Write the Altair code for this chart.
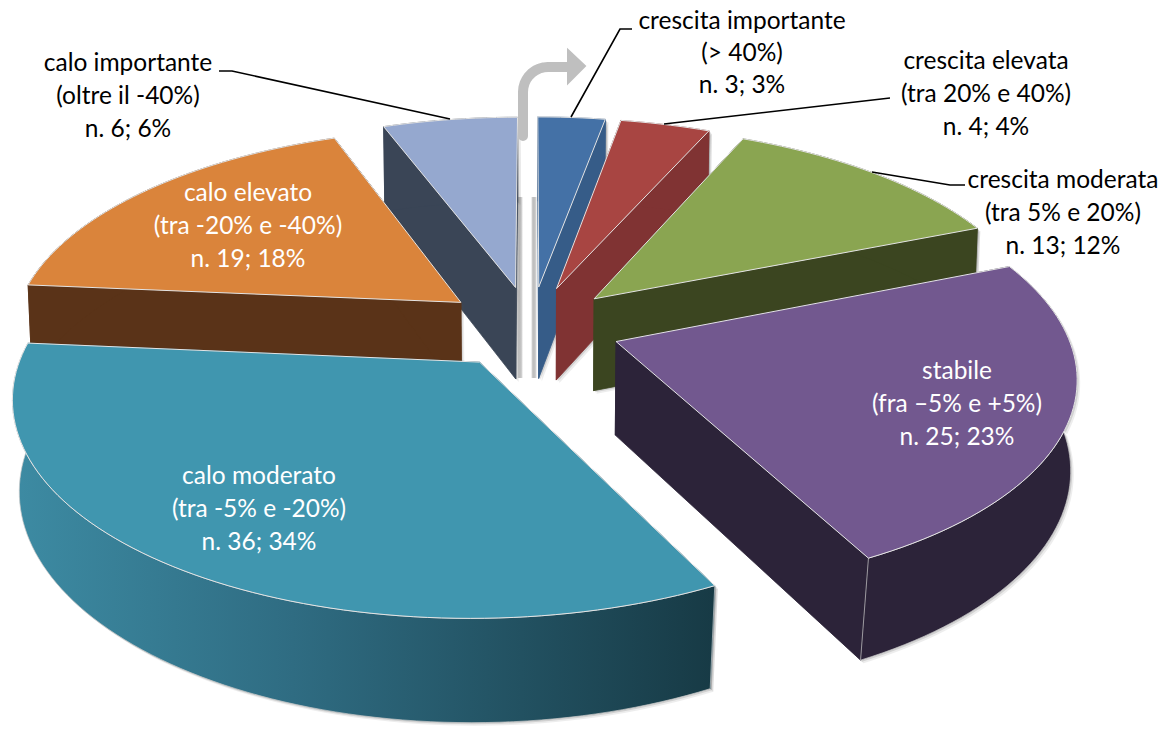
import math
import altair as alt
import pandas as pd

# ---- data
names = ["crescita importante", "crescita elevata", "crescita moderata", "stabile",
         "calo moderato", "calo elevato", "calo importante"]
counts = [3, 4, 13, 25, 36, 19, 6]
top_colors = ["#4471A6", "#A84542", "#8AA551", "#72588F", "#4096AF", "#DA843B", "#95A8CF"]
side_colors = ["#365C88", "#803333", "#3B4520", "#2C2339", "#2A6275", "#5A3318", "#3A4556"]
draw_order = [6, 0, 1, 2, 5, 3, 4]

label_lines = [
    ["crescita importante", "(> 40%)", "n. 3; 3%"],
    ["crescita elevata", "(tra 20% e 40%)", "n. 4; 4%"],
    ["crescita moderata", "(tra 5% e 20%)", "n. 13; 12%"],
    ["stabile", "(fra –5% e +5%)", "n. 25; 23%"],
    ["calo moderato", "(tra -5% e -20%)", "n. 36; 34%"],
    ["calo elevato", "(tra -20% e -40%)", "n. 19; 18%"],
    ["calo importante", "(oltre il -40%)", "n. 6; 6%"],
]
label_x = [742, 986, 1063, 957, 259, 248, 128]
label_y = [22, 61.5, 180.5, 371.5, 476.5, 193.5, 63.5]
line_steps = [32, 33, 33, 33, 33, 33, 33]
label_color = ["black", "black", "black", "white", "white", "white", "black"]

leaders = [
    [(571, 117), (620, 29), (632, 29)],
    [(664, 124), (890, 98)],
    [(872, 172), (950, 185), (965, 185)],
    [(450, 119), (232, 71), (219, 71)],
]
slit_x = [(517, 523), (531, 537)]
slit_y = (197, 378)

# ---- view of the tilted, exploded pie
cx, cy, S, T, k, H, e = 531, 327, 449, 206.5, 0.149, 93, 0.2


def project(x, y, z=0.0):
    w = 1 + k * y
    shrink = 0.008 + 0.016 * max(0.0, -y)
    return (cx + S * x / w * (1 - shrink * z), cy - T * y / w + H * z / w ** 0.6)


X = alt.X("x:Q", scale=alt.Scale(domain=[8, 1166]), axis=None)
Y = alt.Y("y:Q", scale=alt.Scale(domain=[729, 8]), axis=None)


def poly(points, fill, stroke=None, sw=0.8, opacity=1.0):
    df = pd.DataFrame({"x": [p[0] for p in points], "y": [p[1] for p in points],
                       "i": list(range(len(points)))})
    kw = dict(fill=fill, interpolate="linear-closed", strokeWidth=sw, opacity=opacity,
              stroke=stroke if stroke else "transparent")
    return alt.Chart(df).mark_line(**kw).encode(x=X, y=Y, order=alt.Order("i:Q"))


def path(points, color, sw, **kw):
    df = pd.DataFrame({"x": [p[0] for p in points], "y": [p[1] for p in points],
                       "i": list(range(len(points)))})
    return alt.Chart(df).mark_line(color=color, strokeWidth=sw, **kw).encode(
        x=X, y=Y, order=alt.Order("i:Q"))


total = sum(counts)
layers = []
starts = [0.0]
for c in counts:
    starts.append(starts[-1] + 360.0 * c / total)

teal_grad = alt.Gradient(gradient="linear", x1=0, x2=1, y1=0, y2=0, stops=[
    alt.GradientStop(color="#3D8BA3", offset=0),
    alt.GradientStop(color="#2F6C82", offset=0.4),
    alt.GradientStop(color="#173A45", offset=1),
])
slit_grad = alt.Gradient(gradient="linear", x1=0, x2=1, y1=0, y2=0, stops=[
    alt.GradientStop(color="#FFFFFF", offset=0),
    alt.GradientStop(color="#BDBDBD", offset=0.3),
    alt.GradientStop(color="#C4C4C4", offset=0.7),
    alt.GradientStop(color="#FFFFFF", offset=1),
])

# slit shadows between the two central slices
for x0, x1 in slit_x:
    sdf = pd.DataFrame({"x": [x0], "x2": [x1], "y": [slit_y[0]], "y2": [slit_y[1]]})
    layers.append(alt.Chart(sdf).mark_rect(fill=slit_grad).encode(x=X, x2="x2:Q", y=Y, y2="y2:Q"))

for idx in draw_order:
    a0, a1 = math.radians(starts[idx]), math.radians(starts[idx + 1])
    mid = (a0 + a1) / 2
    ox, oy = e * math.sin(mid), e * math.cos(mid)
    n = max(3, int((starts[idx + 1] - starts[idx]) / 1.5))
    rim = [(ox + math.sin(a0 + (a1 - a0) * j / n), oy + math.cos(a0 + (a1 - a0) * j / n))
           for j in range(n + 1)]
    top = [project(ox, oy)] + [project(*p) for p in rim]
    rim_top = [project(*p) for p in rim]
    rim_bot = [project(p[0], p[1], 1) for p in rim]
    apex_t, apex_b = project(ox, oy), project(ox, oy, 1)
    side = side_colors[idx]
    wall_a = [apex_t, rim_top[0], rim_bot[0], apex_b]
    wall_b = [apex_t, rim_top[-1], rim_bot[-1], apex_b]
    rim_wall = rim_top + rim_bot[::-1]
    near = idx in (3, 4)
    # soft shadow
    for off, op in ((3, 0.10), (1.5, 0.18)):
        for group in (rim_wall, wall_a + wall_b):
            layers.append(poly([(p[0] + off, p[1] + off) for p in group], "#555555", opacity=op))
    fill_rim = teal_grad if idx == 4 else side
    layers.append(poly(wall_a, "#173A45" if idx == 4 else side, side))
    layers.append(poly(wall_b, "#173A45" if idx == 4 else side, side))
    layers.append(poly(rim_wall, fill_rim, "#C8C8C8" if near else side, 0.7))
    layers.append(poly(top, top_colors[idx], "#E4E4E4", 1.0))

# arrow
arc_c, arc_r = (548, 92), 25
arrow = [(523, 136)] + [
    (arc_c[0] - arc_r * math.cos(math.radians(t)), arc_c[1] - arc_r * math.sin(math.radians(t)))
    for t in range(0, 91, 10)] + [(572, 67)]
layers.append(path(arrow, "#BFBFBF", 10, strokeCap="round", strokeJoin="round"))
layers.append(poly([(568, 50), (585, 66), (568, 83)], "#BFBFBF", "#BFBFBF", 2))

# leaders
for pts in leaders:
    layers.append(path(pts, "black", 1.6))

# labels
rows = []
for ls, lx, ly, st, col in zip(label_lines, label_x, label_y, line_steps, label_color):
    for j, t in enumerate(ls):
        rows.append({"x": lx, "y": ly + j * st, "t": t, "c": col})
tdf = pd.DataFrame(rows)
layers.append(alt.Chart(tdf).mark_text(font="Lato", fontSize=24.5, align="center", baseline="middle").encode(
    x=X, y=Y, text="t:N", color=alt.Color("c:N", scale=None)))

chart = alt.layer(*layers).properties(width=1158, height=721, padding=0,
                                      autosize=alt.AutoSizeParams(type="none")).configure_view(stroke=None)
chart.save("out.html", embed_options={"renderer": "svg", "actions": False})
